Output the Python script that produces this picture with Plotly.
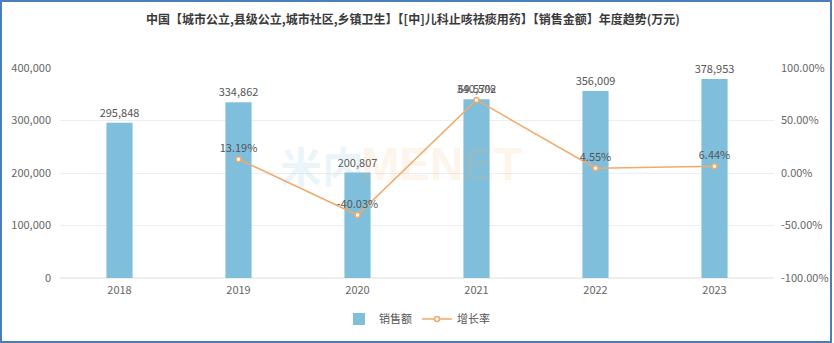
import plotly.graph_objects as go

years = ["2018", "2019", "2020", "2021", "2022", "2023"]
sales = [295848, 334862, 200807, 340502, 356009, 378953]
growth = [None, 13.19, -40.03, 69.57, 4.55, 6.44]

W, H = 834, 343
L, R, T, B = 60, 60, 68, 65
FONT = "Noto Sans CJK SC"
BAR_COLOR = "#7fbfdc"
LINE_COLOR = "#f3a96a"

fig = go.Figure()

fig.add_trace(go.Bar(
    x=years, y=sales, name="销售额",
    marker=dict(color=BAR_COLOR, line=dict(width=0)),
    text=[f"{v:,}" for v in sales], textposition="outside",
    constraintext="none", textangle=0,
    textfont=dict(size=11, color="#555555", family=FONT),
    cliponaxis=False, yaxis="y",
))

fig.add_trace(go.Scatter(
    x=years, y=growth, name="增长率", mode="lines+markers+text",
    line=dict(color=LINE_COLOR, width=1.5),
    marker=dict(symbol="circle", size=5, color="white",
                line=dict(color=LINE_COLOR, width=1.5)),
    text=[("" if g is None else f"{g:.2f}%") for g in growth],
    textposition="top center",
    textfont=dict(size=11, color="#555555", family=FONT),
    cliponaxis=False, yaxis="y2",
))

pw, ph = W - L - R, H - T - B


def px_x(x):
    return (x - L) / pw


def px_y(y):
    return (H - B - y) / ph


fig.update_layout(
    width=W, height=H,
    margin=dict(l=L, r=R, t=T, b=B, autoexpand=False),
    paper_bgcolor="white", plot_bgcolor="white",
    font=dict(family=FONT, color="#666666", size=11),
    bargap=0.78,
    uniformtext=dict(mode=False),
    showlegend=True,
    legend=dict(orientation="h", x=0.5, xanchor="center",
                y=px_y(319), yanchor="middle",
                font=dict(size=11, color="#555555"),
                itemwidth=30, tracegroupgap=0),
    title=dict(text="中国【城市公立,县级公立,城市社区,乡镇卫生】【[中]儿科止咳祛痰用药】【销售金额】年度趋势(万元)",
               x=0.495, xanchor="center", y=1 - 20 / H, yanchor="middle",
               font=dict(size=12, color="#3a3a3a", family=FONT, weight="bold")),
    xaxis=dict(type="category", showgrid=False, showline=False, ticks="",
               tickfont=dict(size=11, color="#666666"), ticklabelstandoff=4),
    yaxis=dict(range=[0, 400000], tickvals=[0, 100000, 200000, 300000, 400000],
               tickformat=",d", showgrid=True, gridcolor="#eeeeee", gridwidth=1,
               zeroline=True, zerolinecolor="#eeeeee", showline=False,
               ticks="", ticklabelstandoff=8,
               tickfont=dict(size=11, color="#666666")),
    yaxis2=dict(range=[-100, 100], tickvals=[-100, -50, 0, 50, 100],
                ticktext=["-100.00%", "-50.00%", "0.00%", "50.00%", "100.00%"],
                overlaying="y", side="right", showgrid=False, zeroline=False,
                showline=False, ticks="", ticklabelstandoff=6,
                tickfont=dict(size=11, color="#666666")),
)

# watermark
fig.add_annotation(xref="paper", yref="paper", x=px_x(322), y=px_y(164),
                   text="米内", showarrow=False,
                   font=dict(size=42, color="rgba(127,191,220,0.16)", family=FONT, weight="bold"))
fig.add_annotation(xref="paper", yref="paper", x=px_x(441), y=px_y(164),
                   text="MENET", showarrow=False,
                   font=dict(size=46, color="rgba(243,169,106,0.14)", family="Liberation Sans", weight="bold"))

# outer frame
fig.add_shape(type="rect", xref="paper", yref="paper",
              x0=px_x(1), x1=px_x(831), y0=px_y(342), y1=px_y(1),
              line=dict(color="#4a7ebb", width=2), fillcolor="rgba(0,0,0,0)",
              layer="above")

fig.write_html("out.html")
